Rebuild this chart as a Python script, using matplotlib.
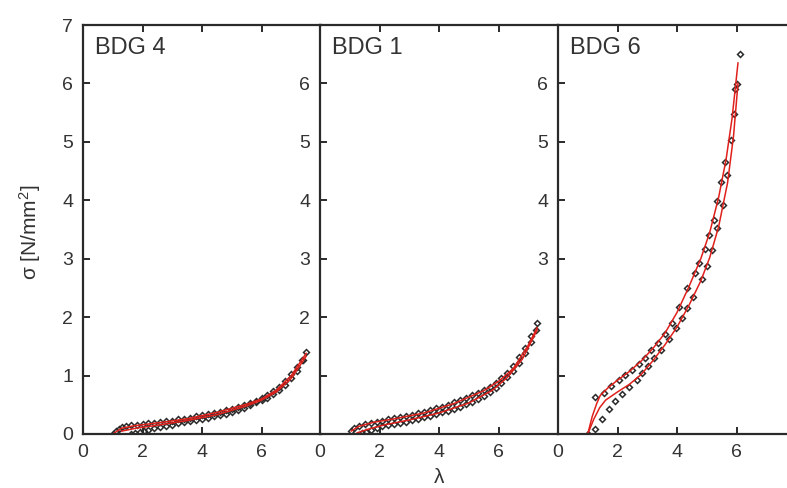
import numpy as np
import matplotlib
matplotlib.use("Agg")
import matplotlib.pyplot as plt

plt.rcParams["font.family"] = ["Liberation Sans", "DejaVu Sans"]
plt.rcParams["mathtext.fontset"] = "custom"
plt.rcParams["mathtext.rm"] = "Liberation Sans"
plt.rcParams["mathtext.it"] = "Liberation Sans:italic"

# BDG 4 measured (loading / unloading) and fit
bdg4_up_x = [1.0, 1.1, 1.2, 1.3, 1.45, 1.6, 1.8, 2.0, 2.2, 2.4, 2.6, 2.8, 3.0, 3.2, 3.4, 3.6,
             3.8, 4.0, 4.2, 4.4, 4.6, 4.8, 5.0, 5.2, 5.4, 5.6, 5.8, 6.0, 6.2, 6.4, 6.6, 6.8,
             7.0, 7.2, 7.35, 7.5]
bdg4_up_y = [0.0, 0.05, 0.09, 0.12, 0.14, 0.15, 0.16, 0.17, 0.18, 0.19, 0.21, 0.22, 0.23, 0.25,
             0.26, 0.28, 0.30, 0.32, 0.34, 0.36, 0.38, 0.41, 0.43, 0.46, 0.49, 0.53, 0.57, 0.61,
             0.66, 0.73, 0.81, 0.91, 1.02, 1.15, 1.27, 1.41]
bdg4_dn_x = [1.6, 1.75, 1.9, 2.05, 2.2, 2.4, 2.6, 2.8, 3.0, 3.2, 3.4, 3.6, 3.8, 4.0, 4.2, 4.4,
             4.6, 4.8, 5.0, 5.2, 5.4, 5.6, 5.8, 6.0, 6.2, 6.4, 6.6, 6.8, 7.0, 7.2, 7.4]
bdg4_dn_y = [0.0, 0.01, 0.03, 0.05, 0.07, 0.10, 0.12, 0.14, 0.16, 0.18, 0.20, 0.22, 0.24, 0.26,
             0.28, 0.30, 0.33, 0.35, 0.38, 0.41, 0.45, 0.49, 0.54, 0.58, 0.62, 0.68, 0.75, 0.84,
             0.95, 1.08, 1.27]
bdg4_fit_up_x = [1.0, 1.3, 1.7, 2.5, 3.5, 4.5, 5.5, 6.0, 6.5, 7.0, 7.5]
bdg4_fit_up_y = [0.0, 0.1, 0.14, 0.19, 0.26, 0.37, 0.51, 0.6, 0.75, 1.0, 1.38]
bdg4_fit_dn_x = [1.3, 1.8, 2.5, 3.5, 4.5, 5.5, 6.0, 6.5, 7.0, 7.5]
bdg4_fit_dn_y = [0.05, 0.1, 0.15, 0.23, 0.33, 0.48, 0.58, 0.72, 0.95, 1.33]

# BDG 1
bdg1_up_x = [1.05, 1.15, 1.3, 1.5, 1.7, 1.9, 2.1, 2.3, 2.5, 2.7, 2.9, 3.1, 3.3, 3.5, 3.7, 3.9,
             4.1, 4.3, 4.5, 4.7, 4.9, 5.1, 5.3, 5.5, 5.7, 5.9, 6.1, 6.3, 6.5, 6.7, 6.9, 7.1, 7.3]
bdg1_up_y = [0.05, 0.10, 0.14, 0.17, 0.19, 0.21, 0.23, 0.25, 0.27, 0.29, 0.31, 0.33, 0.36, 0.38,
             0.41, 0.44, 0.47, 0.50, 0.54, 0.58, 0.62, 0.66, 0.70, 0.75, 0.81, 0.88, 0.96, 1.05,
             1.17, 1.31, 1.48, 1.67, 1.90]
bdg1_dn_x = [1.4, 1.55, 1.7, 1.9, 2.1, 2.3, 2.5, 2.7, 2.9, 3.1, 3.3, 3.5, 3.7, 3.9, 4.1, 4.3,
             4.5, 4.7, 4.9, 5.1, 5.3, 5.5, 5.7, 5.9, 6.1, 6.3, 6.5, 6.7, 6.9, 7.1, 7.25]
bdg1_dn_y = [0.01, 0.04, 0.07, 0.10, 0.13, 0.15, 0.17, 0.19, 0.21, 0.24, 0.26, 0.29, 0.31, 0.34,
             0.37, 0.40, 0.43, 0.47, 0.51, 0.55, 0.60, 0.65, 0.72, 0.79, 0.87, 0.97, 1.08, 1.22,
             1.38, 1.58, 1.78]
bdg1_fit_up_x = [1.05, 1.3, 1.8, 2.5, 3.5, 4.5, 5.5, 6.0, 6.5, 7.0, 7.3]
bdg1_fit_up_y = [0.05, 0.13, 0.2, 0.26, 0.36, 0.52, 0.74, 0.9, 1.12, 1.52, 1.82]
bdg1_fit_dn_x = [1.25, 1.6, 2.2, 3.0, 4.0, 5.0, 5.8, 6.3, 6.8, 7.3]
bdg1_fit_dn_y = [0.02, 0.08, 0.16, 0.24, 0.36, 0.53, 0.75, 0.97, 1.28, 1.78]

# BDG 6
bdg6_up_x = [1.02, 1.25, 1.53, 1.78, 2.04, 2.26, 2.49, 2.71, 2.92, 3.11, 3.36, 3.59, 3.82, 4.06,
             4.35, 4.60, 4.74, 4.93, 5.07, 5.23, 5.36, 5.47, 5.61, 5.81, 5.90, 5.96, 6.11]
bdg6_up_y = [0.0, 0.64, 0.71, 0.83, 0.92, 1.01, 1.10, 1.20, 1.30, 1.43, 1.56, 1.72, 1.90, 2.17,
             2.50, 2.75, 2.92, 3.16, 3.41, 3.67, 3.98, 4.31, 4.66, 5.04, 5.48, 5.90, 6.50]
bdg6_dn_x = [6.01, 5.69, 5.55, 5.33, 5.19, 5.02, 4.85, 4.55, 4.35, 4.18, 3.98, 3.73, 3.45, 3.24,
             3.02, 2.83, 2.64, 2.38, 2.15, 1.93, 1.70, 1.48, 1.25]
bdg6_dn_y = [5.99, 4.43, 3.92, 3.52, 3.15, 2.88, 2.65, 2.35, 2.15, 1.99, 1.82, 1.62, 1.44, 1.30,
             1.17, 1.05, 0.92, 0.81, 0.69, 0.57, 0.43, 0.26, 0.09]
bdg6_fit_up_x = [1.0, 1.15, 1.3, 1.42, 1.7, 2.0, 2.4, 2.8, 3.2, 3.6, 4.0, 4.4, 4.8, 5.1, 5.4,
                 5.65, 5.85, 6.05]
bdg6_fit_up_y = [0.0, 0.3, 0.52, 0.66, 0.8, 0.92, 1.07, 1.25, 1.47, 1.73, 2.08, 2.52, 3.0, 3.45,
                 4.05, 4.7, 5.4, 6.35]
bdg6_fit_dn_x = [1.0, 1.2, 1.4, 1.6, 2.0, 2.4, 2.8, 3.2, 3.6, 4.0, 4.4, 4.8, 5.1, 5.4, 5.7,
                 5.9, 6.05]
bdg6_fit_dn_y = [0.0, 0.25, 0.45, 0.58, 0.72, 0.85, 1.02, 1.26, 1.53, 1.83, 2.2, 2.62, 3.02,
                 3.55, 4.3, 5.1, 6.0]

panels = [
    ("BDG 4", bdg4_up_x, bdg4_up_y, bdg4_dn_x, bdg4_dn_y,
     bdg4_fit_up_x, bdg4_fit_up_y, bdg4_fit_dn_x, bdg4_fit_dn_y, [0, 1, 2, 3, 4, 5, 6, 7]),
    ("BDG 1", bdg1_up_x, bdg1_up_y, bdg1_dn_x, bdg1_dn_y,
     bdg1_fit_up_x, bdg1_fit_up_y, bdg1_fit_dn_x, bdg1_fit_dn_y, [2, 3, 4, 5, 6]),
    ("BDG 6", bdg6_up_x, bdg6_up_y, bdg6_dn_x, bdg6_dn_y,
     bdg6_fit_up_x, bdg6_fit_up_y, bdg6_fit_dn_x, bdg6_fit_dn_y, [3, 4, 5, 6]),
]

ink = "#2a2a2a"
red = "#e0201b"

fig = plt.figure(figsize=(7.87, 4.88), dpi=100)
lefts = [83, 320, 558]
for (name, ux, uy, dx, dy, fux, fuy, fdx, fdy, shown), left in zip(panels, lefts):
    ax = fig.add_axes([left / 787, 54 / 488, 238 / 787, 409 / 488])
    ax.plot(ux, uy, ls="none", marker="D", ms=3, mfc="none", mec=ink, mew=1.1)
    ax.plot(dx, dy, ls="none", marker="D", ms=3, mfc="none", mec=ink, mew=1.1)
    ax.plot(fux, fuy, color=red, lw=1.1)
    ax.plot(fdx, fdy, color=red, lw=1.1)
    ax.set_xlim(0, 8)
    ax.set_ylim(0, 7)
    ax.set_xticks([0, 2, 4, 6])
    ax.set_yticks(range(8))
    ax.set_yticklabels([str(v) if v in shown else "" for v in range(8)])
    ax.tick_params(direction="in", length=5, width=1.4, colors=ink, labelsize=14,
                   top=True, right=False, pad=7)
    for s in ax.spines.values():
        s.set_linewidth(1.6)
        s.set_color(ink)
    ax.spines["right"].set_visible(name == "BDG 6")
    ax.set_facecolor("none")
    for lbl in ax.get_xticklabels() + ax.get_yticklabels():
        lbl.set_color("#333333")
    ax.text(0.4, 6.6, name, fontsize=17, color="#333333", va="center")

fig.text(0.038, 1 - 232 / 488, "σ [N/mm$^2$]", rotation=90, fontsize=15,
         color="#333333", ha="center", va="center")
fig.text(439 / 787, 0.002, "λ", fontsize=15, color="#333333", ha="center", va="bottom")

fig.savefig("out.png", dpi=100)
